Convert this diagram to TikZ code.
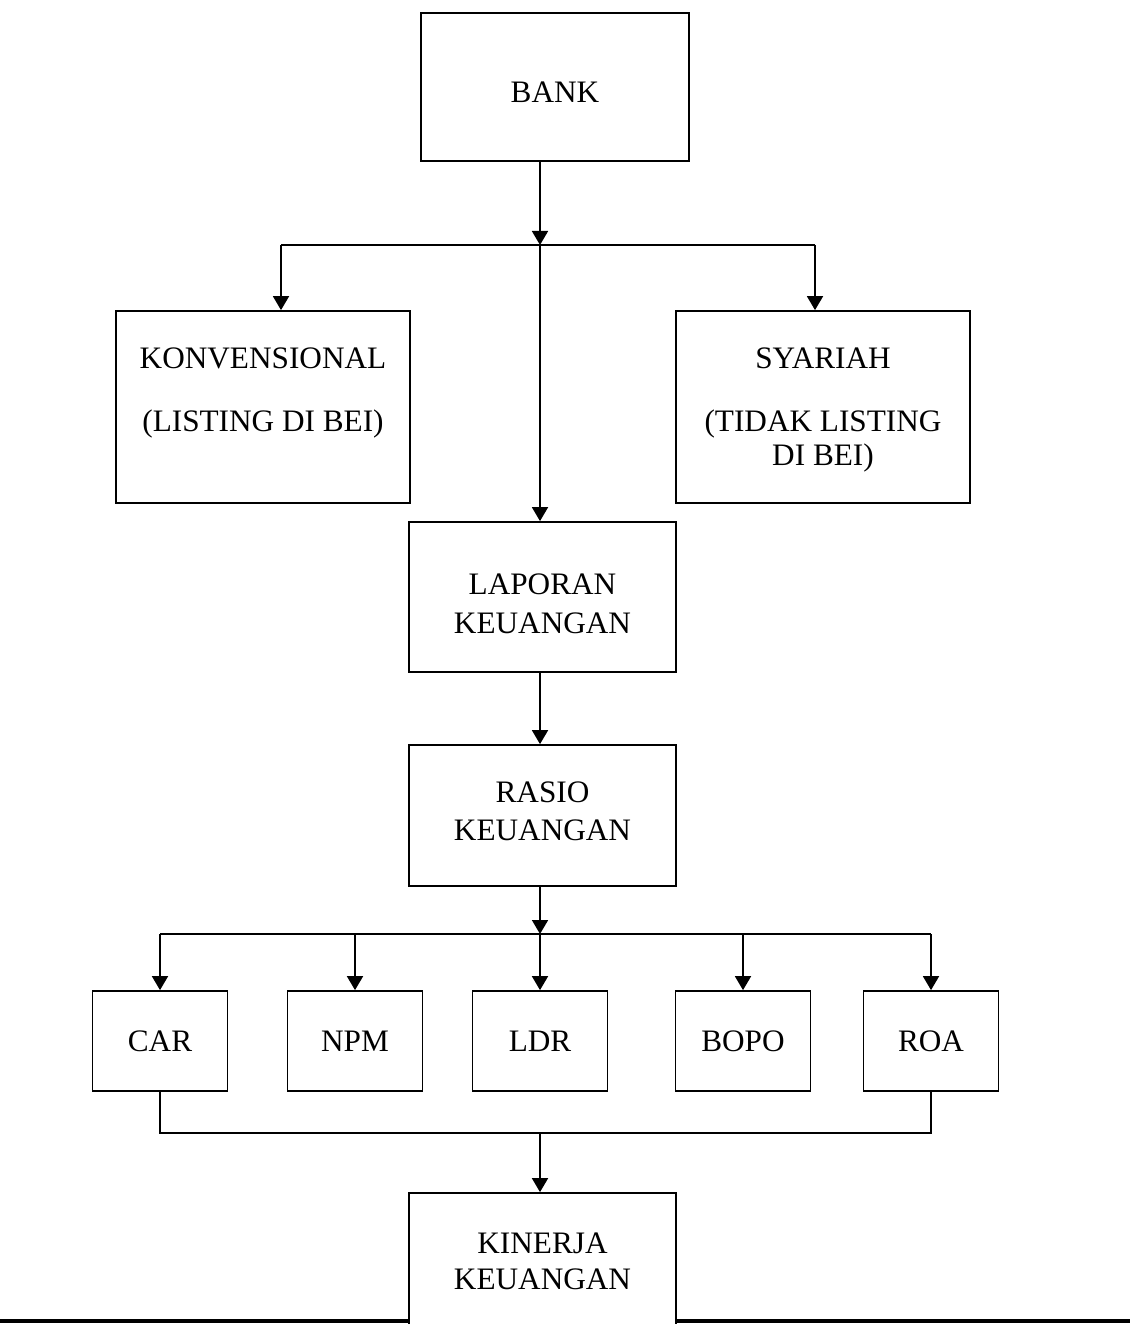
\documentclass[tikz,border=0pt]{standalone}
\usepackage{fontspec}
\setmainfont{Liberation Serif}
\usepackage{tikz}
\usetikzlibrary{arrows.meta}

\begin{document}
\begin{tikzpicture}[x=0.4pt,y=-0.4pt]
\tikzstyle{every node}+=[font=\fontsize{12.5}{13.6}\selectfont, inner sep=0pt]
\tikzstyle{box}=[draw, line width=0.7pt, fill=white, align=center]
\tikzstyle{bigbox}=[box, minimum width=117.6pt, minimum height=76.8pt]
\tikzstyle{midbox}=[box, minimum width=106.8pt]
\tikzstyle{rasiobox}=[box, minimum width=54pt, minimum height=40pt]
\tikzstyle{link}=[line width=0.7pt]
\tikzstyle{arrow}=[link, -{Triangle[length=5.6pt,width=6.4pt]}]
\useasboundingbox (0,0) rectangle (1130,1324);
\clip (0,0) rectangle (1130,1324);
\draw [line width=1.3pt] (0,1321) -- (1130,1321);
\node [box, minimum width=107.2pt, minimum height=59.2pt] (bank) at (555,87) {\rule{0pt}{12.2pt}BANK};
\node [bigbox] (konv) at (263,407) {KONVENSIONAL\\[11.6pt](LISTING DI BEI)\\\mbox{}};
\node [bigbox] (syariah) at (823,407) {\rule{0pt}{10.6pt}SYARIAH\\[11.6pt](TIDAK LISTING\\DI BEI)};
\node [midbox, minimum height=60pt] (laporan) at (542.5,597) {\rule{0pt}{13.8pt}LAPORAN\\[2pt]KEUANGAN};
\node [midbox, minimum height=56.4pt] (rasio) at (542.5,815.5) {RASIO\\[1.6pt]KEUANGAN\rule[-3.2pt]{0pt}{3.2pt}};
\node [rasiobox] (car) at (160,1041) {CAR};
\node [rasiobox] (npm) at (355,1041) {NPM};
\node [rasiobox] (ldr) at (540,1041) {LDR};
\node [rasiobox] (bopo) at (743,1041) {BOPO};
\node [rasiobox] (roa) at (931,1041) {ROA};
\node [midbox, minimum height=54.4pt] (kinerja) at (542.5,1261) {KINERJA\\[0.8pt]KEUANGAN};
\coordinate (j1) at (540,245);
\coordinate (jl) at (281,245);
\coordinate (jr) at (815,245);
\coordinate (j2) at (540,934);
\coordinate (j3) at (540,1133);
\draw [arrow] (bank.south -| j1) -- (j1);
\draw [link] (jl) -- (jr);
\draw [arrow] (jl) -- (jl |- konv.north);
\draw [arrow] (jr) -- (jr |- syariah.north);
\draw [arrow] (j1) -- (j1 |- laporan.north);
\draw [arrow] (laporan.south -| j1) -- (rasio.north -| j1);
\draw [arrow] (rasio.south -| j2) -- (j2);
\draw [link] (car.north |- j2) -- (roa.north |- j2);
\foreach \n in {car,npm,ldr,bopo,roa}
  \draw [arrow] (\n.north |- j2) -- (\n.north);
\draw [link] (car.south) |- (j3) -| (roa.south);
\draw [arrow] (j3) -- (kinerja.north -| j3);
\end{tikzpicture}
\end{document}
